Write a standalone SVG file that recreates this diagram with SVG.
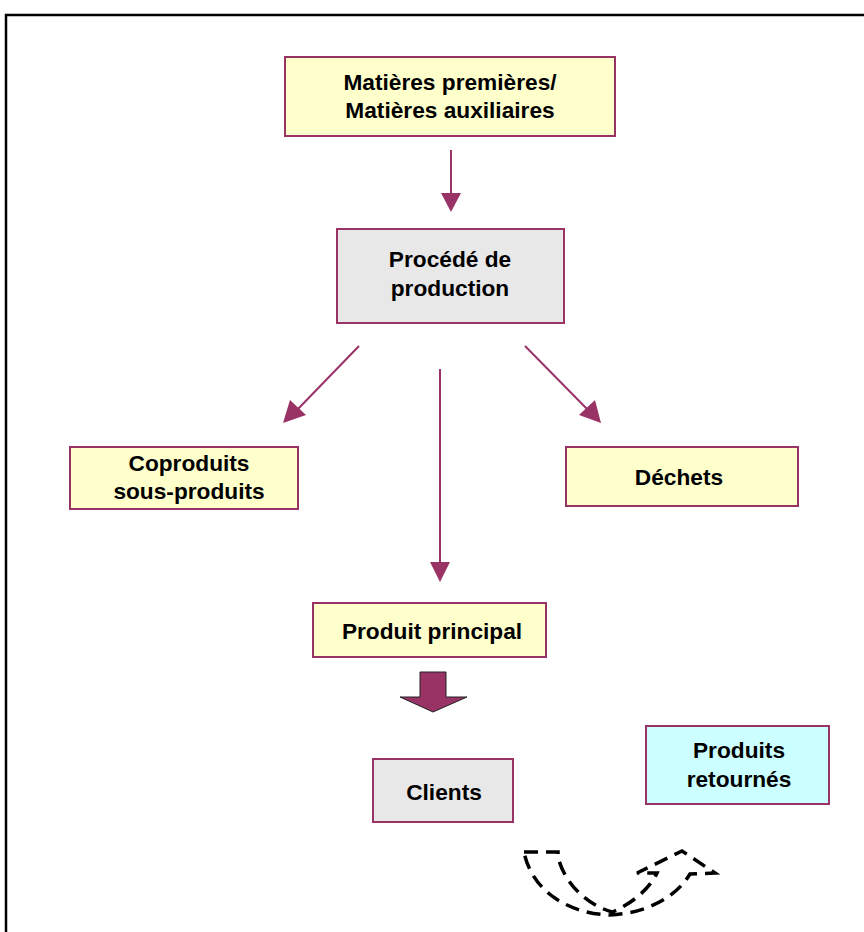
<svg xmlns="http://www.w3.org/2000/svg" width="864" height="932" viewBox="0 0 864 932">
<defs>
<style>
.box{stroke:#993366;stroke-width:2}
.y{fill:#FFFFCC}
.g{fill:#E8E8E8}
.c{fill:#CCFFFF}
text{font-family:"Liberation Sans",Arial,sans-serif;font-weight:bold;font-size:22.7px;fill:#000;text-anchor:middle}
.conn{stroke:#993366;stroke-width:2;fill:none}
.head{fill:#993366}
</style>
</defs>
<rect width="864" height="932" fill="#fff"/>
<g id="frame">
<path d="M6,932 L6,15 L864,15" fill="none" stroke="#000" stroke-width="2.5"/>
</g>
<g id="connectors">
<line class="conn" x1="451" y1="150" x2="451" y2="193"/>
<path class="head" d="M441,193 L461,193 L451,212 Z"/>
<line class="conn" x1="359" y1="346" x2="297" y2="410"/>
<path class="head" d="M283,423 L290,400 L306,415 Z"/>
<line class="conn" x1="525" y1="346" x2="588" y2="410"/>
<path class="head" d="M601,423 L579,415 L595,400 Z"/>
<line class="conn" x1="440" y1="369" x2="440" y2="563"/>
<path class="head" d="M430,562 L450,562 L440,582 Z"/>
<path d="M420,672 L446,672 L446,697 L467,697 L433,712 L400,697 L420,697 Z" fill="#993366" stroke="#222" stroke-width="1"/>
<path d="M524,852 L558,852 L558,857 C565,885 588,905 612,912 C632,904 650,888 657,873 L637,873 L682,851 L715,873 L690,874 C676,897 648,913 610,915 C570,914 532,892 524,852 Z" fill="none" stroke="#000" stroke-width="3.5" stroke-dasharray="14,8"/>
</g>
<g id="matieres">
<rect class="box y" x="285" y="57" width="330" height="79"/>
<text x="450" y="90">Matières premières/</text>
<text x="450" y="118">Matières auxiliaires</text>
</g>
<g id="procede">
<rect class="box g" x="337" y="229" width="227" height="94"/>
<text x="450" y="267">Procédé de</text>
<text x="450" y="296">production</text>
</g>
<g id="coproduits">
<rect class="box y" x="70" y="447" width="228" height="62"/>
<text x="189" y="471">Coproduits</text>
<text x="189" y="499">sous-produits</text>
</g>
<g id="dechets">
<rect class="box y" x="566" y="447" width="232" height="59"/>
<text x="679" y="485">Déchets</text>
</g>
<g id="produit">
<rect class="box y" x="313" y="603" width="233" height="54"/>
<text x="432" y="639">Produit principal</text>
</g>
<g id="clients">
<rect class="box g" x="373" y="759" width="140" height="63"/>
<text x="444" y="800">Clients</text>
</g>
<g id="retournes">
<rect class="box c" x="646" y="726" width="183" height="78"/>
<text x="739" y="758">Produits</text>
<text x="739" y="787">retournés</text>
</g>
</svg>
